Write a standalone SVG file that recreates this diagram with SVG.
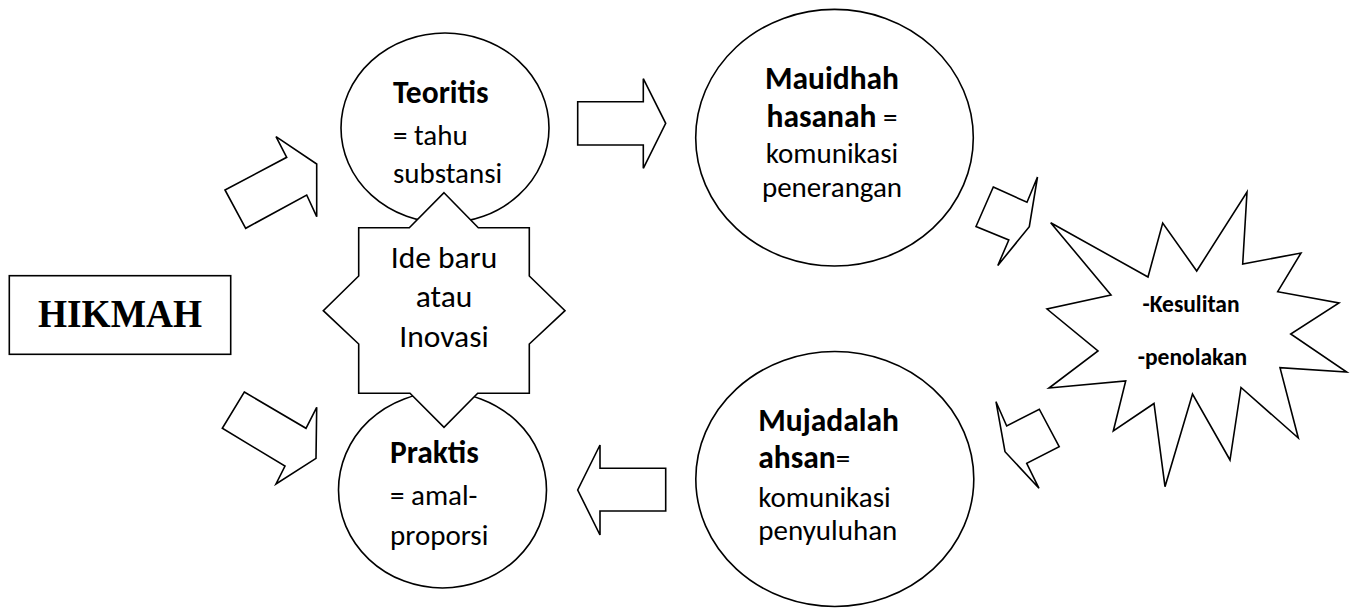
<svg xmlns="http://www.w3.org/2000/svg" width="1356" height="608" viewBox="0 0 1356 608">
<style>
.s{fill:#fff;stroke:#000;stroke-width:1.6;stroke-linejoin:miter}
.t{font-family:Carlito,Lato,"Liberation Sans",sans-serif;font-size:29px;fill:#000}
.b{font-weight:bold;font-size:31.5px}
.i{font-size:31.5px}
.k{font-weight:bold;font-size:23.5px}
</style>
<rect width="1356" height="608" fill="#fff"/>
<g id="connectors">
<polygon class="s" points="225,190 286.7,157.3 276,136.7 316.7,164 316.7,216.7 306.7,195 245.7,228.3"/>
<polygon class="s" points="244.3,392 306,428.3 316.7,407.3 316,458.3 276,484 285,466 222.3,428.3"/>
<polygon class="s" points="577.7,101.7 643.3,101.7 643.3,78.7 665.7,123.3 643.3,168.3 643.3,145 577.7,145"/>
<polygon class="s" points="665.7,468.3 600,468.3 600,445 577.7,490 600,535 600,511 665.7,511"/>
<polygon class="s" points="993.3,187 1027,202.3 1037.5,177 1029.3,226.7 997.8,265.5 1008.8,240 976,226.5"/>
<polygon class="s" points="996,401.7 1006.7,426 1039.3,409.2 1059.2,446.7 1026.7,463.3 1039,488.3 1005,451.7"/>
</g>
<g id="hikmah">
<rect class="s" x="9.3" y="275.7" width="221.4" height="78.6" stroke-width="2"/>
<text x="120" y="326.7" text-anchor="middle" font-family="'Liberation Serif',serif" font-weight="bold" font-size="40" textLength="164" lengthAdjust="spacingAndGlyphs">HIKMAH</text>
</g>
<g id="teoritis">
<ellipse class="s" cx="445" cy="128" rx="104" ry="95"/>
<text class="t b" x="393" y="103.3">Teoritis</text>
<text class="t" x="393" y="145">= tahu</text>
<text class="t" x="393" y="183.3">substansi</text>
</g>
<g id="praktis">
<ellipse class="s" cx="442.5" cy="490" rx="104" ry="98"/>
<text class="t b" x="390" y="463.3">Praktis</text>
<text class="t" x="390" y="505">= amal-</text>
<text class="t" x="390" y="545">proporsi</text>
</g>
<g id="ide">
<polygon class="s" points="444,192.7 478.3,227.7 529.3,227.7 529.3,276 565,310.7 529.3,344 529.3,393.3 477.7,393.3 444,427.3 410,393.3 358.7,393.3 358.7,344 323.3,310.7 358.7,276 358.7,227.7 409.3,227.7"/>
<text class="t i" x="444" y="268.3" text-anchor="middle">Ide baru</text>
<text class="t i" x="444" y="306.7" text-anchor="middle">atau</text>
<text class="t i" x="444" y="346.7" text-anchor="middle">Inovasi</text>
</g>
<g id="mauidhah">
<ellipse class="s" cx="834.5" cy="137.7" rx="138.8" ry="128.3"/>
<text class="t b" x="832" y="89.3" text-anchor="middle">Mauidhah</text>
<text class="t" x="832" y="127.3" text-anchor="middle"><tspan class="b">hasanah</tspan> =</text>
<text class="t" x="832" y="163.3" text-anchor="middle">komunikasi</text>
<text class="t" x="832" y="197" text-anchor="middle">penerangan</text>
</g>
<g id="mujadalah">
<ellipse class="s" cx="834.8" cy="479" rx="139" ry="127.5"/>
<text class="t b" x="758.3" y="431">Mujadalah</text>
<text class="t" x="758.3" y="468.3"><tspan class="b">ahsan</tspan>=</text>
<text class="t" x="758.3" y="506.7">komunikasi</text>
<text class="t" x="758.3" y="540">penyuluhan</text>
</g>
<g id="kesulitan">
<polygon class="s" points="1050.7,222.7 1148,277 1162.7,223 1196.7,271 1247,192 1242.7,264 1301,253 1277.7,291.7 1339,303 1290.7,334 1346.7,372 1280,367.7 1298.3,438 1241,387.5 1230,460 1192.5,394 1165,486.7 1154,403.5 1113.3,431 1125.7,381 1049,388 1098,351 1047,309 1111,295"/>
<text class="t k" x="1191" y="311.7" text-anchor="middle">-Kesulitan</text>
<text class="t k" x="1192.5" y="365" text-anchor="middle">-penolakan</text>
</g>
</svg>
